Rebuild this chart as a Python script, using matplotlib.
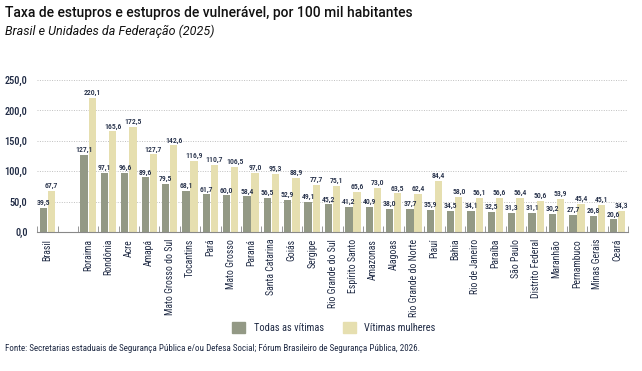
import numpy as np
import matplotlib
matplotlib.use("Agg")
import matplotlib.pyplot as plt
from matplotlib.patches import Patch

# Dados
categorias = ["Brasil", "", "Roraima", "Rondônia", "Acre", "Amapá", "Mato Grosso do Sul",
              "Tocantins", "Pará", "Mato Grosso", "Paraná", "Santa Catarina", "Goiás",
              "Sergipe", "Rio Grande do Sul", "Espírito Santo", "Amazonas", "Alagoas",
              "Rio Grande do Norte", "Piauí", "Bahia", "Rio de Janeiro", "Paraíba",
              "São Paulo", "Distrito Federal", "Maranhão", "Pernambuco", "Minas Gerais", "Ceará"]
todas = [39.5, None, 127.1, 97.1, 96.6, 89.6, 79.5, 68.1, 61.7, 60.0, 58.4, 56.5, 52.9,
         49.1, 45.2, 41.2, 40.9, 38.0, 37.7, 35.9, 34.5, 34.1, 32.5, 31.3, 31.1, 30.2,
         27.7, 26.8, 20.6]
mulheres = [67.7, None, 220.1, 165.6, 172.5, 127.7, 142.6, 116.9, 110.7, 106.5, 97.0, 95.3,
            88.9, 77.7, 75.1, 65.6, 73.0, 63.5, 62.4, 84.4, 58.0, 56.1, 56.6, 56.4, 50.6,
            53.9, 45.4, 45.1, 34.3]
yticks = [0, 50, 100, 150, 200, 250]

cor_todas = "#939985"
cor_mulheres = "#e6dfb0"
cor_texto = "#1f2a44"
fonte = ["Roboto Condensed", "DejaVu Sans"]

fig = plt.figure(figsize=(6.42, 3.71), dpi=100)
ax = fig.add_axes([0.058, 0.375, 0.92, 0.409])

x = np.arange(len(categorias))
w = 0.36
for i in range(len(categorias)):
    if todas[i] is None:
        continue
    ax.bar(x[i] - 0.2, todas[i], w, color=cor_todas)
    ax.bar(x[i] + 0.2, mulheres[i], w, color=cor_mulheres)
    ax.text(x[i] - 0.2, todas[i] + 3, f"{todas[i]:.1f}".replace(".", ","), ha="center",
            va="bottom", fontsize=5.6, color=cor_texto, family=fonte, weight="medium")
    ax.text(x[i] + 0.2, mulheres[i] + 3, f"{mulheres[i]:.1f}".replace(".", ","), ha="center",
            va="bottom", fontsize=5.6, color=cor_texto, family=fonte, weight="medium",
            clip_on=False)

ax.set_xlim(-0.5, len(categorias) - 0.5)
ax.set_ylim(0, 250)
ax.set_yticks(yticks)
ax.set_yticklabels([f"{v:.1f}".replace(".", ",") for v in yticks], family=fonte,
                   fontsize=7.5, color=cor_texto, weight="medium")
ax.set_xticks(x)
ax.set_xticklabels(categorias, rotation=90, family=fonte, fontsize=7, color=cor_texto)
ax.set_xticks(np.arange(-0.5, len(categorias), 1), minor=True)
ax.tick_params(axis="x", which="major", length=0, pad=5)
ax.tick_params(axis="x", which="minor", length=4, color="#888888", direction="in")
ax.tick_params(axis="y", length=0, pad=7)

ax.grid(axis="y", linestyle=(0, (1, 1.5)), color="#c0c0c0", linewidth=0.7)
ax.set_axisbelow(True)
for s in ["top", "right", "left"]:
    ax.spines[s].set_visible(False)
ax.spines["bottom"].set_color("#888888")

fig.text(0.008, 0.955, "Taxa de estupros e estupros de vulnerável, por 100 mil habitantes",
         fontsize=10, family="Roboto", weight="medium", color="#111111")
fig.text(0.008, 0.905, "Brasil e Unidades da Federação (2025)", fontsize=9,
         family="Roboto", style="italic", color="#111111")

handles = [Patch(color=cor_todas, label="Todas as vítimas"),
           Patch(color=cor_mulheres, label="Vítimas mulheres")]
fig.legend(handles=handles, loc="center", bbox_to_anchor=(0.52, 0.118), ncol=2, frameon=False,
           prop={"family": fonte, "size": 7.5}, handlelength=1.3, handleheight=1.3,
           columnspacing=1.8, labelcolor=cor_texto)

fig.text(0.008, 0.055, "Fonte: Secretarias estaduais de Segurança Pública e/ou Defesa Social; "
         "Fórum Brasileiro de Segurança Pública, 2026.", fontsize=6.5, family=fonte,
         color=cor_texto)

fig.savefig("out.png", dpi=100)
